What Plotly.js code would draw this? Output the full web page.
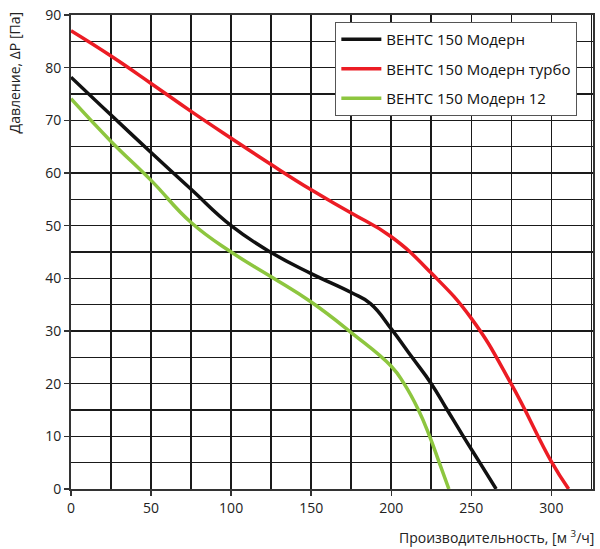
<!DOCTYPE html>
<html><head><meta charset="utf-8">
<script src="https://cdn.plot.ly/plotly-3.0.1.min.js"></script>
<style>html,body{margin:0;padding:0;background:#fff}#c{width:600px;height:549px}</style>
</head><body><div id="c"></div>
<script>
const seriesNames = ["ВЕНТС 150 Модерн", "ВЕНТС 150 Модерн турбо", "ВЕНТС 150 Модерн 12"];
const blackX = [0, 25, 50, 75, 100, 125, 150, 175, 187, 200, 213, 225, 235, 245, 255.3, 265.5];
const blackY = [78.2, 71.0, 63.9, 56.9, 50, 44.9, 40.9, 37.3, 35.2, 30.4, 25, 20, 15, 10, 5, 0];
const redX = [0, 25, 50, 75, 100, 125, 150, 175, 200, 225, 250, 275, 300, 310.8];
const redY = [87, 82.2, 77, 71.7, 66.6, 61.6, 56.8, 52.4, 47.9, 41, 32.4, 19.9, 5.2, 0];
const greenX = [0, 25, 50, 75, 100, 125, 150, 175, 200, 208, 217, 224, 230, 236];
const greenY = [74.1, 66, 58.6, 50.6, 45, 40.3, 35.5, 29.7, 23.3, 20, 15, 10, 5, 0];
const colors = ["#111111", "#ec1c24", "#8dc63f"];
const xTitle = "Производительность, [м <sup>3</sup>/ч]";
const yTitle = "Давление, ΔP [Па]";

const xs = [blackX, redX, greenX], ys = [blackY, redY, greenY];
const traces = xs.map((x, i) => ({
  x: x, y: ys[i], name: seriesNames[i], type: 'scatter', mode: 'lines', legendgroup: 'g' + i,
  line: {color: colors[i], width: 3.5, shape: 'spline', smoothing: 1.3}
}));
const font = {family: "Open Sans, sans-serif", size: 14, color: "#222"};
const gw = 1.6, gc = '#1a1a1a';
const layout = {
  width: 600, height: 549,
  margin: {l: 71, r: 7, t: 15, b: 60},
  paper_bgcolor: '#fff', plot_bgcolor: '#fff',
  font: font,
  showlegend: true,
  legend: {x: 0.97, y: 0.985, xanchor: 'right', yanchor: 'top', bgcolor: '#fff',
    bordercolor: '#555', borderwidth: 1, font: {family: "Open Sans, sans-serif", size: 15, color: '#111'},
    traceorder: 'grouped', tracegroupgap: 7, itemwidth: 40},
  xaxis: {range: [0, 326], dtick: 50, tick0: 0, showgrid: true, gridcolor: gc, gridwidth: gw,
    minor: {dtick: 25, showgrid: true, gridcolor: gc, gridwidth: gw, ticks: ''},
    showline: true, linecolor: '#333', linewidth: 2, mirror: true,
    ticks: 'outside', ticklen: 5, tickcolor: '#333', tickwidth: 1.5, zeroline: false,
    tickfont: font},
  yaxis: {range: [0, 90], dtick: 10, tick0: 0, showgrid: true, gridcolor: gc, gridwidth: gw,
    minor: {dtick: 5, showgrid: true, gridcolor: gc, gridwidth: gw, ticks: ''},
    showline: true, linecolor: '#333', linewidth: 2, mirror: true,
    ticks: 'outside', ticklen: 5, tickcolor: '#333', tickwidth: 1.5, zeroline: false,
    tickfont: font},
  annotations: [
    {text: xTitle, xref: 'paper', yref: 'paper', x: 1.005, y: -0.101, xanchor: 'right', yanchor: 'middle',
      showarrow: false, font: font},
    {text: yTitle, xref: 'paper', yref: 'paper', x: -0.13, y: 1.01, xanchor: 'left', yanchor: 'top',
      textangle: -90, showarrow: false, font: font}
  ]
};
Plotly.newPlot('c', traces, layout, {displayModeBar: false, staticPlot: true});
</script></body></html>
